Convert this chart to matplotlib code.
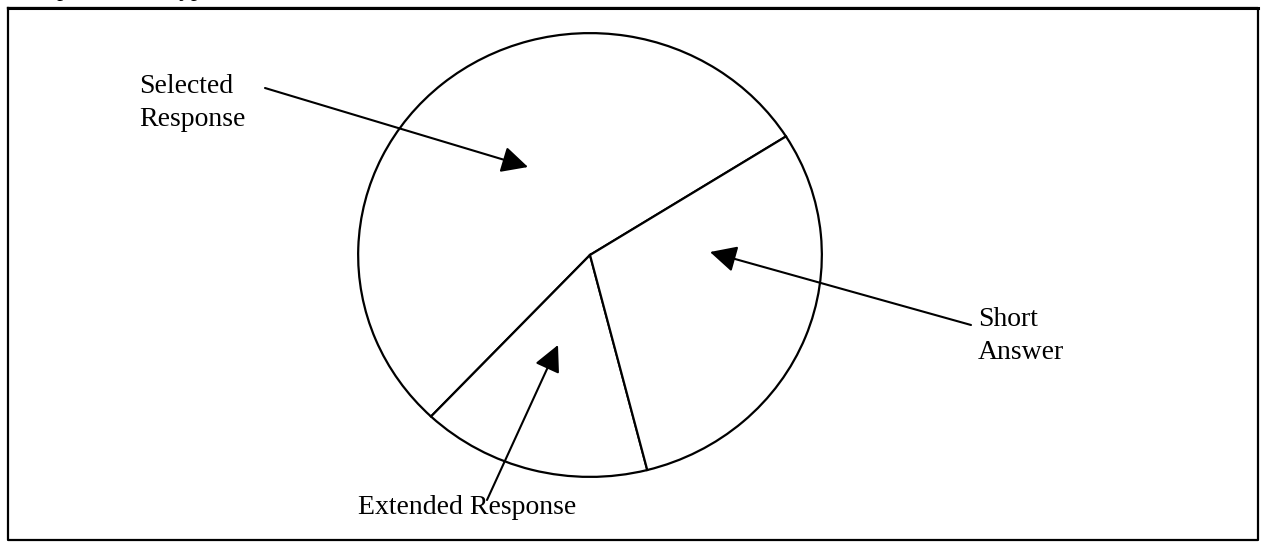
import matplotlib.pyplot as plt

# slice data (percent of items)
categories = ["Selected Response", "Extended Response", "Short Answer"]
shares = [54, 16, 30]
start_angle = 32.3

# label text + arrow (tail -> tip) in pixel coords of the 1261x542 page
label_text = ["Selected\nResponse", "Extended Response", "Short\nAnswer"]
label_xy = [(139, 103), (358, 508), (978, 336)]
arrow_tail = [(265, 88), (487, 500), (971, 325)]
arrow_tip = [(528, 167), (558, 345), (710, 252)]

W, H = 1261, 542
plt.rcParams["font.family"] = ["Liberation Serif", "DejaVu Serif"]

fig = plt.figure(figsize=(W / 100, H / 100), dpi=100)
fig.patch.set_facecolor("white")

# ── pie, squeezed into the slightly oval outline of the original ─────────────
cx0, cy0, cx1, cy1 = 357, 32, 823, 478
pax = fig.add_axes([cx0 / W, 1 - cy1 / H, (cx1 - cx0) / W, (cy1 - cy0) / H])
pax.pie(shares, startangle=start_angle, counterclock=True, colors=["white"] * 3,
        wedgeprops=dict(edgecolor="black", linewidth=1.6))
pax.set_aspect("auto")
pax.set_xlim(-1.005, 1.005)
pax.set_ylim(-1.005, 1.005)
pax.axis("off")

# ── overlay in pixel coords for box, labels and arrows ──────────────────────
ax = fig.add_axes([0, 0, 1, 1], zorder=5)
ax.set_xlim(0, W)
ax.set_ylim(H, 0)
ax.patch.set_alpha(0)
ax.axis("off")

# frame box
ax.plot([8, 1258, 1258, 8, 8], [8, 8, 540, 540, 8], color="black", lw=1.6,
        clip_on=False)
ax.plot([8, 1258], [7.5, 7.5], color="black", lw=2.2, clip_on=False)

# caption above the box, mostly cut off by the page edge (as in the scan)
ax.text(2, -4, "Example of Item Types", fontsize=17, va="baseline",
        ha="left", clip_on=False)

for txt, (tx, ty), tail, tip in zip(label_text, label_xy, arrow_tail, arrow_tip):
    ax.text(tx, ty, txt, fontsize=20, ha="left", va="center", linespacing=1.4)
    ax.annotate("", xy=tip, xytext=tail,
                arrowprops=dict(arrowstyle="-|>,head_length=0.9,head_width=0.45",
                                color="black", lw=1.5, mutation_scale=18,
                                shrinkA=0, shrinkB=0))

fig.savefig("out.png", dpi=100)
